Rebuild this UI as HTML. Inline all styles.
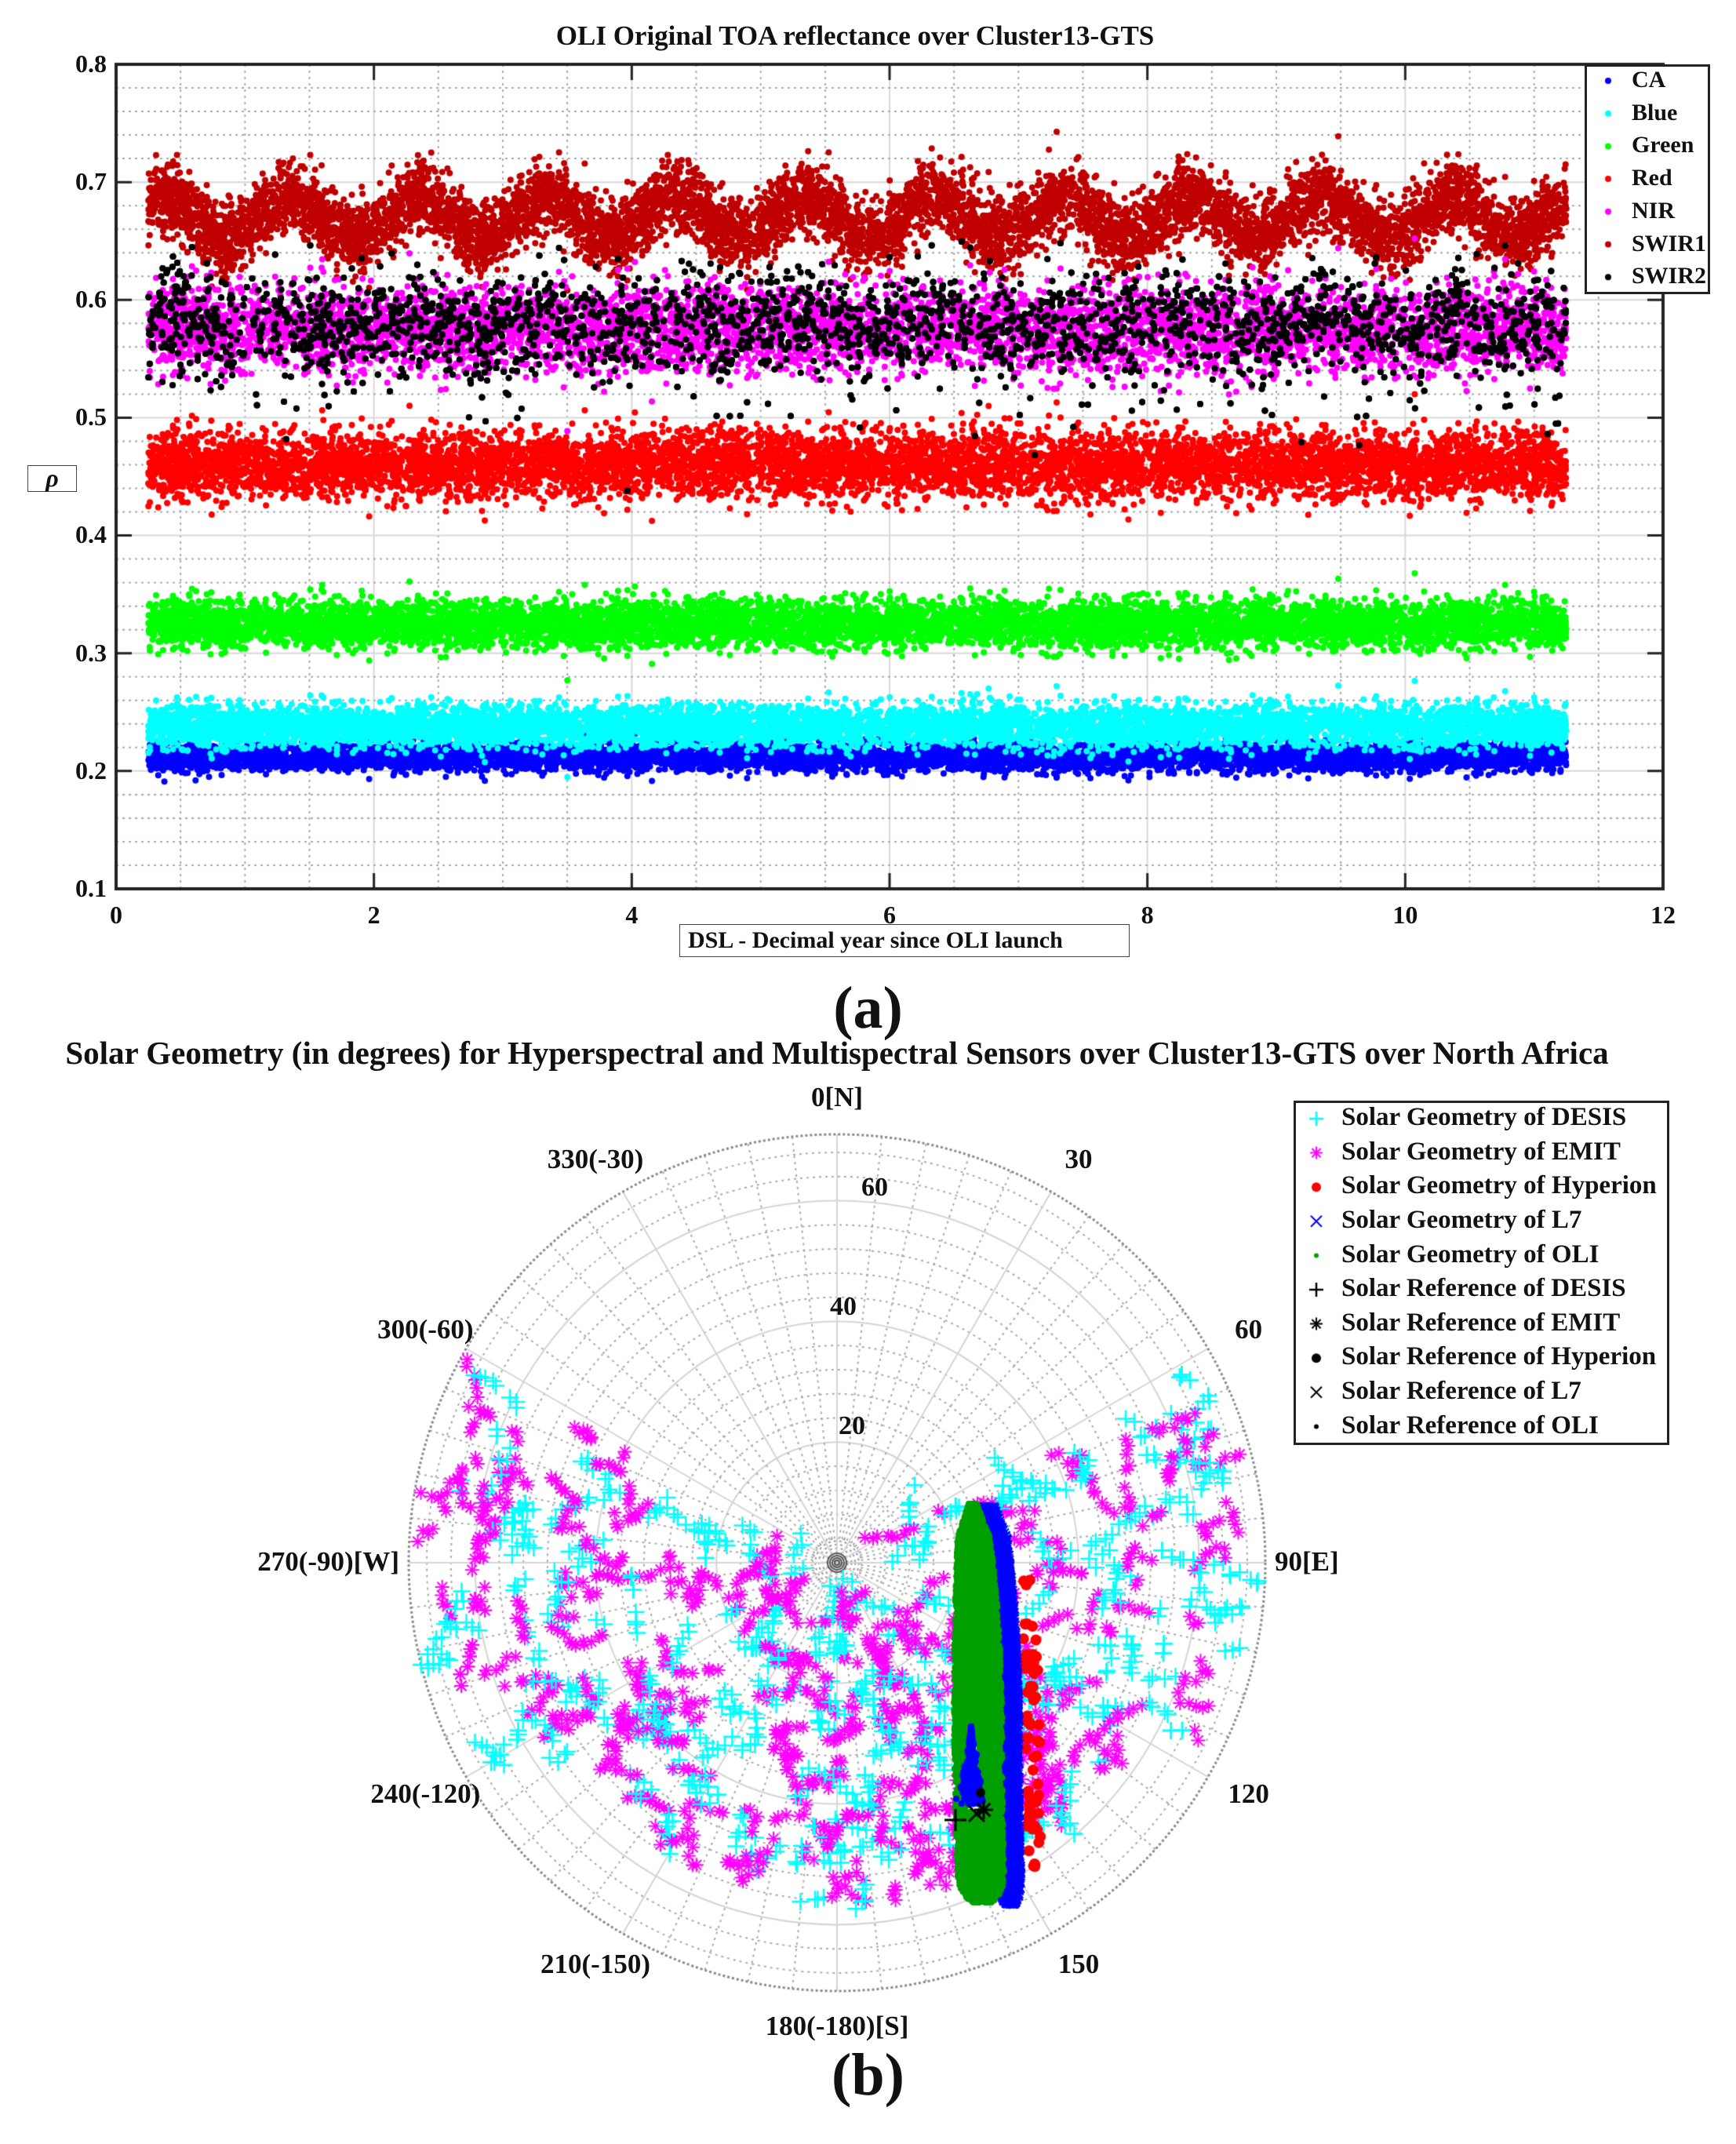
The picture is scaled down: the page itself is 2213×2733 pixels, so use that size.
<!DOCTYPE html>
<html><head><meta charset="utf-8">
<style>
body{margin:0;background:#fff;}
#w{position:relative;width:2213px;height:2733px;overflow:hidden;font-family:"Liberation Serif",serif;color:#111;}
.t{position:absolute;white-space:nowrap;font-weight:bold;}
canvas{position:absolute;left:0;top:0;}
</style></head><body>
<div id="w">
<canvas id="c" width="2213" height="2733"></canvas>
<div class="t" style="left:0;width:2180px;text-align:center;top:26px;font-size:35px;">OLI Original TOA reflectance over Cluster13-GTS</div>
<div class="t" style="left:866px;top:1178px;width:574px;height:42px;border:1.5px solid #444;font-size:30px;line-height:40px;padding-left:10px;box-sizing:border-box;">DSL - Decimal year since OLI launch</div>
<div class="t" style="left:35px;top:593px;width:61px;height:32px;border:1.5px solid #444;font-size:32px;font-style:italic;text-align:center;line-height:30px;">ρ</div>
<div class="t" style="left:0;width:2213px;text-align:center;top:1242px;font-size:76px;">(a)</div>
<div class="t" style="left:0;width:2134px;text-align:center;top:1318px;font-size:41px;">Solar Geometry (in degrees) for Hyperspectral and Multispectral Sensors over Cluster13-GTS over North Africa</div>
<div class="t" style="left:0;width:2213px;text-align:center;top:2602px;font-size:76px;">(b)</div>
<div style="position:absolute;left:2020px;top:82px;width:160px;height:293px;border:3px solid #222;box-sizing:border-box;background:#fff;"></div>
<div style="position:absolute;left:1649px;top:1403px;width:479px;height:439px;border:3px solid #222;box-sizing:border-box;background:#fff;"></div>
<div id="lab"></div>
<canvas id="c2" width="2213" height="2733"></canvas>
</div>
<script>
var s=12345;function R(){s=(s*1103515245+12345)%2147483648;return s/2147483648;}
function G(){var u=R()||1e-9,v=R();return Math.sqrt(-2*Math.log(u))*Math.cos(2*Math.PI*v);}
var c=document.getElementById('c').getContext('2d');
var c2=document.getElementById('c2').getContext('2d');
var L=148,Rr=2120,T=82,B=1133;
function X(v){return L+(v)*(Rr-L)/12;} function Y(v){return T+(0.8-v)*(B-T)/0.7;}
var lab=document.getElementById('lab'),h='';
function txt(x,y,t,sz,al){var st='top:'+(y-sz*0.6)+'px;font-size:'+sz+'px;';
 if(al=='c')st+='left:'+(x-400)+'px;width:800px;text-align:center;';else if(al=='r')st+='left:'+(x-400)+'px;width:400px;text-align:right;';else st+='left:'+x+'px;';
 h+='<div class="t" style="'+st+'">'+t+'</div>';}
c.lineWidth=2;
for(var i=0;i<=24;i++){var x=X(i*0.5);c.strokeStyle=i%4==0?'#d8d8d8':'#aaa';c.setLineDash(i%4==0?[]:[3,5]);c.beginPath();c.moveTo(x,T);c.lineTo(x,B);c.stroke();}
for(var i=0;i<=35;i++){var y=Y(0.1+i*0.02);c.strokeStyle=i%5==0?'#d8d8d8':'#aaa';c.setLineDash(i%5==0?[]:[3,5]);c.beginPath();c.moveTo(L,y);c.lineTo(Rr,y);c.stroke();}
c.setLineDash([]);
function dot(ctx,x,y,r,col){ctx.fillStyle=col;ctx.beginPath();ctx.arc(x,y,r,0,6.283);ctx.fill();}
function ser(mf,sd,col,n,tail){for(var i=0;i<n;i++){var t=0.25+R()*11;var v=mf(t)+sd*G();if(tail&&R()<tail)v-=Math.abs(G())*0.035;dot(c,X(t),Y(v),4,col);}}
ser(function(){return 0.212},0.006,'#0000ff',7000);
ser(function(){return 0.238},0.009,'#00ffff',7000);
ser(function(){return 0.325},0.01,'#00ff00',7500);
ser(function(){return 0.46},0.014,'#ff0000',7500);
ser(function(t){return 0.67+0.017*Math.sin(2*Math.PI*(t-1.1))},0.015,'#c00000',7500);
ser(function(){return 0.575},0.018,'#ff00ff',6000);
ser(function(t){return 0.582+0.006*Math.sin(2*Math.PI*(t-1.1))},0.021,'#000000',6500,0.15);
c.strokeStyle='#222';c.lineWidth=4;c.strokeRect(L,T,Rr-L,B-T);c.lineWidth=3;
for(var i=0;i<=6;i++){var x=X(i*2);c.beginPath();c.moveTo(x,B);c.lineTo(x,B-20);c.moveTo(x,T);c.lineTo(x,T+20);c.stroke();txt(x,B+34,String(i*2),32,'c');}
for(var i=1;i<=8;i++){var y=Y(i/10);c.beginPath();c.moveTo(L,y);c.lineTo(L+20,y);c.moveTo(Rr,y);c.lineTo(Rr-20,y);c.stroke();txt(L-12,y,(i/10).toFixed(1),32,'r');}
var la=[['CA','#0000ff'],['Blue','#00ffff'],['Green','#00ff00'],['Red','#ff0000'],['NIR','#ff00ff'],['SWIR1','#c00000'],['SWIR2','#000']];
la.forEach(function(a,i){var y=103+i*41.7;dot(c2,2050,y,4,a[1]);txt(2080,y,a[0],30);});
var cx=1067,cy=1992,pr=546,k=pr/71;
function P(az,r){var a=az*Math.PI/180;return[cx+r*k*Math.sin(a),cy-r*k*Math.cos(a)];}
c.lineWidth=2;
for(var r=4;r<=68;r+=4){c.strokeStyle=r%20==0?'#d4d4d4':'#aaa';c.setLineDash(r%20==0?[]:[3,5]);c.beginPath();c.arc(cx,cy,r*k,0,6.283);c.stroke();}
c.setLineDash([3,4]);c.strokeStyle='#999';
for(var r=0.6;r<4;r+=0.6){c.beginPath();c.arc(cx,cy,r*k,0,6.283);c.stroke();}
for(var a=0;a<360;a+=6){c.strokeStyle=a%30==0?'#d4d4d4':'#aaa';c.setLineDash(a%30==0?[]:[3,5]);var p0=P(a,a%30==0?0:4),p1=P(a,71);c.beginPath();c.moveTo(p0[0],p0[1]);c.lineTo(p1[0],p1[1]);c.stroke();}
c.setLineDash([3,3]);c.strokeStyle='#888';c.lineWidth=3;c.beginPath();c.arc(cx,cy,pr,0,6.283);c.stroke();c.setLineDash([]);
c.strokeStyle='#555';c.lineWidth=2;for(var r=3;r<14;r+=3){c.beginPath();c.arc(cx,cy,r,0,6.283);c.stroke();}
var albl={0:'0[N]',30:'30',60:'60',90:'90[E]',120:'120',150:'150',180:'180(-180)[S]',210:'210(-150)',240:'240(-120)',270:'270(-90)[W]',300:'300(-60)',330:'330(-30)'};
for(var a in albl){var d=46;var aa=a*Math.PI/180;var x=cx+(pr+d)*Math.sin(aa),y=cy-(pr+d)*Math.cos(aa);
 var al='c';if(a==90){al=null;x=cx+pr+12;} if(a==270){al='r';x=cx-pr-12;} if(a>0&&a<180&&a!=90){x+=12} if(a>180&&a!=270){x-=12}
 txt(x,y,albl[a],35,al);}
txt(1086,1819,'20',34,'c');txt(1075,1667,'40',34,'c');txt(1115,1515,'60',34,'c');
function plus(ctx,x,y,sz,col,lw){ctx.strokeStyle=col;ctx.lineWidth=lw;ctx.beginPath();ctx.moveTo(x-sz,y);ctx.lineTo(x+sz,y);ctx.moveTo(x,y-sz);ctx.lineTo(x,y+sz);ctx.stroke();}
function xm(ctx,x,y,sz,col,lw){ctx.strokeStyle=col;ctx.lineWidth=lw;ctx.beginPath();ctx.moveTo(x-sz,y-sz);ctx.lineTo(x+sz,y+sz);ctx.moveTo(x+sz,y-sz);ctx.lineTo(x-sz,y+sz);ctx.stroke();}
function star(ctx,x,y,sz,col,lw){plus(ctx,x,y,sz,col,lw);xm(ctx,x,y,sz*0.7,col,lw);}
for(var j=0;j<560;j++){var az=62+R()*236,r=3+Math.sqrt(R())*64;
 var dw=Math.abs(az-180);if(dw<60&&r>56)r=5+R()*50;
 var p=P(az,r);var emit=R()<0.5;var ang=R()*6.28,n=2+Math.floor(R()*5);
 for(var q=0;q<n;q++){var x=p[0]+Math.cos(ang)*q*9+G()*3,y=p[1]+Math.sin(ang)*q*9+G()*3;
  if(emit)star(c,x,y,9,'#ff00ff',2);else plus(c,x,y,11,'#00ffff',2.5);}}
var y0=1920,y1=2428;
function gl(y){var f=(y-y0)/(y1-y0);return 1222-6*Math.sin(f*Math.PI)+ (f<0.08?(0.08-f)*150:0);}
function gr(y){var f=(y-y0)/(y1-y0);return 1258+30*f+6*Math.sin(f*Math.PI*1.5)-(f<0.08?(0.08-f)*150:0);}
function sh(y){var f=(y1-y)/40;return f<1?(1-Math.sqrt(Math.max(0,f*(2-f)))):0;}
for(var i=0;i<70;i++){var y=2000+R()*380;dot(c,gr(y)+30+R()*18,y,7,'#ff0000');}
for(var i=0;i<7000;i++){var y=y0+R()*(y1-y0);var a=gr(y)-10,b=gr(y)+22;var m=(a+b)/2,wd=(b-a)/2*(1-sh(y)*0.8);xm(c,m+(R()*2-1)*wd,y,5,'#0000ff',1.5);}
for(var i=0;i<11000;i++){var y=y0-3+R()*(y1-y0);var a=gl(y),b=gr(y);var m=(a+b)/2,wd=(b-a)/2*(1-sh(y));var x=m+(R()*2-1)*wd;
 if(y>2200&&y<2310&&x>1230&&x<1248&&R()<0.85)continue;dot(c,x,y,4,'#00a000');}
for(var i=0;i<400;i++){var y=2200+R()*100;var x=1238+G()*(y-2200)*0.07;dot(c,x,y,4,'#0000ff');}
plus(c,1218,2320,14,'#000',3);star(c,1254,2307,12,'#000',3);dot(c,1250,2285,6,'#000');xm(c,1245,2312,10,'#000',3);
var lb=['DESIS','EMIT','Hyperion','L7','OLI'];
for(var i=0;i<10;i++){var y=1426+i*43.6;var nm=lb[i%5];txt(1710,y,(i<5?'Solar Geometry of ':'Solar Reference of ')+nm,33);
 var col=i<5?['#00ffff','#ff00ff','#ff0000','#0000ff','#00a000'][i]:'#000';var m=i%5;
 if(m==0)plus(c2,1678,y,9,col,2.5);else if(m==1)star(c2,1678,y,8,col,2);else if(m==2)dot(c2,1678,y,6,col);else if(m==3)xm(c2,1678,y,7,col,2);else dot(c2,1678,y,3,col);}
lab.innerHTML=h;
</script>
</body></html>
